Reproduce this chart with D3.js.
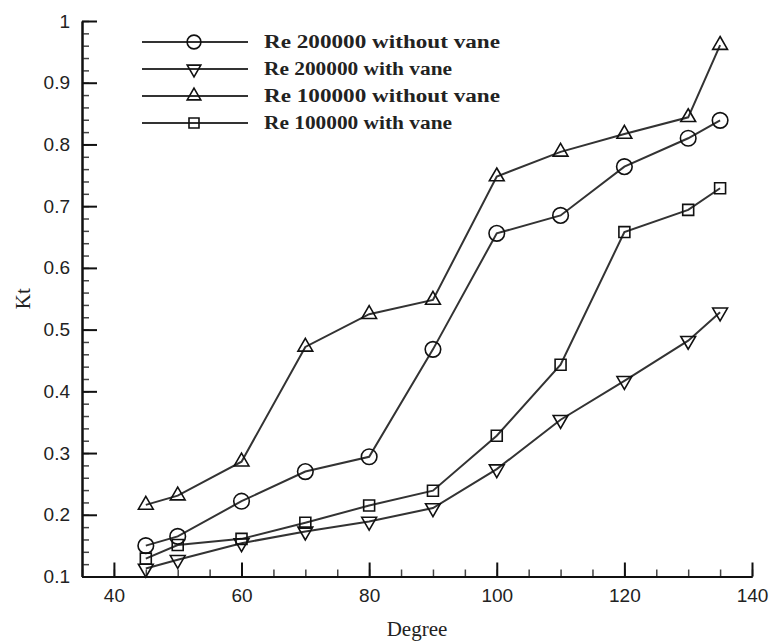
<!DOCTYPE html>
<html>
<head>
<meta charset="utf-8">
<script src="https://cdn.jsdelivr.net/npm/d3@7"></script>
<style>
  body { margin: 0; background: #fff; }
  svg { display: block; }
</style>
</head>
<body>
<div id="chart"></div>
<script>
;(function (window, document, undefined) {

  'use strict';

  var degrees = [45, 50, 60, 70, 80, 90, 100, 110, 120, 130, 135];

  var re200Without = [0.150, 0.165, 0.222, 0.270, 0.294, 0.468, 0.656, 0.685, 0.764, 0.810, 0.839];
  var re200With    = [0.113, 0.127, 0.154, 0.173, 0.189, 0.211, 0.274, 0.354, 0.417, 0.482, 0.528];
  var re100Without = [0.216, 0.231, 0.286, 0.472, 0.525, 0.548, 0.748, 0.788, 0.817, 0.844, 0.961];
  var re100With    = [0.129, 0.151, 0.161, 0.187, 0.215, 0.239, 0.328, 0.443, 0.658, 0.694, 0.729];

  var seriesNames = ['Re 200000 without vane', 'Re 200000 with vane', 'Re 100000 without vane', 'Re 100000 with vane'];
  var seriesMarks = ['circle', 'down', 'up', 'square'];

  var xTicks = [40, 60, 80, 100, 120, 140];
  var yTicks = [0.1, 0.2, 0.3, 0.4, 0.5, 0.6, 0.7, 0.8, 0.9, 1];

  var width = 773, height = 641;

  var x = d3.scaleLinear().domain([35, 140]).range([82, 752]);
  var y = d3.scaleLinear().domain([0.1, 1]).range([576.5, 21]);

  var svg = d3.select('#chart').append('svg')
              .attr('width', width)
              .attr('height', height);

  var markPath = function (kind, s) {
    if (kind === 'circle') {
      return d3.symbol().type(d3.symbolCircle).size(s || 190)();
    }
    if (kind === 'square') {
      return d3.symbol().type(d3.symbolSquare).size(s || 120)();
    }
    return d3.symbol().type(d3.symbolTriangle).size(s || 95)();
  };

  var drawMark = function (g, kind, cx, cy, s) {
    g.append('path')
      .attr('d', markPath(kind, s))
      .attr('transform', 'translate(' + cx + ',' + cy + ')' + (kind === 'down' ? ' rotate(180)' : ''))
      .attr('fill', 'none')
      .attr('stroke', '#111')
      .attr('stroke-width', 1.6);
  };

  // axes
  var axisFont = '"Liberation Sans", Arial, sans-serif';

  var xMinor = svg.append('g')
    .attr('transform', 'translate(0,' + y(0.1) + ')')
    .call(d3.axisBottom(x).tickValues(d3.range(35, 141, 5)).tickSize(-7).tickSizeOuter(0).tickFormat(function () { return ''; }));

  var xAxis = svg.append('g')
    .attr('transform', 'translate(0,' + y(0.1) + ')')
    .call(d3.axisBottom(x).tickValues(xTicks).tickSize(-14).tickSizeOuter(0).tickPadding(12));

  var yMinor = svg.append('g')
    .attr('transform', 'translate(' + x(35) + ',0)')
    .call(d3.axisLeft(y).tickValues(d3.range(0, 46).map(function (i) { return 0.1 + i * 0.02; })).tickSize(-7).tickSizeOuter(0).tickFormat(function () { return ''; }));

  var yAxis = svg.append('g')
    .attr('transform', 'translate(' + x(35) + ',0)')
    .call(d3.axisLeft(y).tickValues(yTicks).tickSize(-15).tickSizeOuter(0).tickPadding(12)
      .tickFormat(function (d) { return d === 1 ? '1' : d3.format('.1f')(d); }));

  [xAxis, yAxis].forEach(function (g) {
    g.selectAll('path, line').attr('stroke', '#111').attr('stroke-width', 2);
    g.selectAll('text')
      .style('font-family', axisFont)
      .style('font-size', '19px')
      .attr('fill', '#222');
  });
  [xMinor, yMinor].forEach(function (g) {
    g.selectAll('path').attr('stroke', '#111').attr('stroke-width', 2);
    g.selectAll('line').attr('stroke', '#444').attr('stroke-width', 1.5);
  });

  svg.append('text')
    .attr('x', x(87.5))
    .attr('y', 636)
    .style('text-anchor', 'middle')
    .style('font-family', '"Liberation Serif", "Times New Roman", serif')
    .style('font-size', '21px')
    .attr('fill', '#222')
    .text('Degree');

  svg.append('text')
    .attr('transform', 'translate(30,' + y(0.55) + ') rotate(-90)')
    .style('text-anchor', 'middle')
    .style('font-family', '"Liberation Serif", "Times New Roman", serif')
    .style('font-size', '21px')
    .attr('fill', '#222')
    .text('Kt');

  // series
  var allSeries = [re200Without, re200With, re100Without, re100With];

  var line = d3.line()
    .x(function (d, i) { return x(degrees[i]); })
    .y(function (d) { return y(d); });

  var plot = svg.append('g');

  allSeries.forEach(function (values) {
    plot.append('path')
      .attr('d', line(values))
      .attr('fill', 'none')
      .attr('stroke', '#333')
      .attr('stroke-width', 2);
  });

  allSeries.forEach(function (values, k) {
    values.forEach(function (v, i) {
      drawMark(plot, seriesMarks[k], x(degrees[i]), y(v));
    });
  });

  // legend
  var legend = svg.append('g');
  seriesNames.forEach(function (name, k) {
    var ly = 42 + k * 27;
    legend.append('line')
      .attr('x1', 142).attr('x2', 248)
      .attr('y1', ly).attr('y2', ly)
      .attr('stroke', '#333')
      .attr('stroke-width', 2);
    drawMark(legend, seriesMarks[k], 194, ly, seriesMarks[k] === 'circle' ? 150 : (seriesMarks[k] === 'square' ? 100 : 80));
    legend.append('text')
      .attr('x', 264)
      .attr('y', ly + 6)
      .attr('textLength', k % 2 === 0 ? 236 : 188)
      .attr('lengthAdjust', 'spacingAndGlyphs')
      .style('font-family', '"Liberation Serif", "Times New Roman", serif')
      .style('font-weight', 'bold')
      .style('font-size', '18px')
      .attr('fill', '#222')
      .text(name);
  });

})(window, document);
</script>
</body>
</html>
